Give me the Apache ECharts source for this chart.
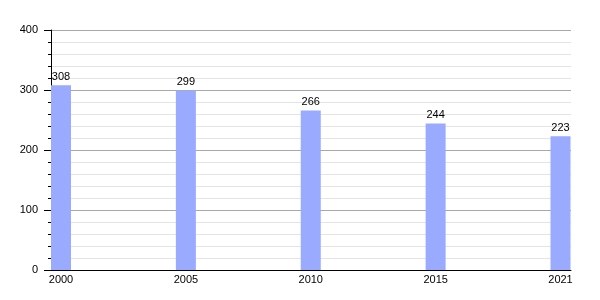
<!DOCTYPE html>
<html><head><meta charset="utf-8">
<script src="https://cdn.jsdelivr.net/npm/echarts@6/dist/echarts.min.js"></script>
<style>html,body{margin:0;padding:0;background:#fff}#c{width:600px;height:300px}</style>
</head><body><div id="c"></div>
<script>
const years = ['2000', '2005', '2010', '2015', '2021'];
const values = [308, 299, 266, 244, 223];
const yTicks = [0, 100, 200, 300, 400];

const chart = echarts.init(document.getElementById('c'), null, {renderer: 'canvas'});
const font = 'Liberation Sans';
chart.setOption({
  animation: false,
  backgroundColor: '#fff',
  grid: [
    {left: 51, right: 29, top: 30, bottom: 30},
    {left: 61, right: 39.5, top: 30, bottom: 30}
  ],
  xAxis: [
    {gridIndex: 0, type: 'value', min: 0, max: 1,
     axisLine: {show: true, lineStyle: {color: '#000', width: 1}},
     axisTick: {show: false}, axisLabel: {show: false}, splitLine: {show: false}},
    {gridIndex: 1, type: 'category', data: years, boundaryGap: false,
     axisLine: {show: false}, axisTick: {show: false}, splitLine: {show: false},
     axisLabel: {color: '#000', fontFamily: font, fontSize: 11, margin: 4}}
  ],
  yAxis: [
    {gridIndex: 0, type: 'value', min: yTicks[0], max: yTicks[yTicks.length - 1], interval: 100,
     axisLine: {show: true, lineStyle: {color: '#000', width: 1}},
     axisTick: {show: true, length: 7, lineStyle: {color: '#000'}},
     minorTick: {show: true, splitNumber: 5, length: 3, lineStyle: {color: '#000'}},
     splitLine: {show: true, lineStyle: {color: '#a8a8a8', width: 1}},
     minorSplitLine: {show: true, lineStyle: {color: '#e4e4e4', width: 1}},
     axisLabel: {color: '#000', fontFamily: font, fontSize: 11, margin: 13}},
    {gridIndex: 1, type: 'value', min: yTicks[0], max: yTicks[yTicks.length - 1],
     show: false}
  ],
  series: [{
    type: 'bar', xAxisIndex: 1, yAxisIndex: 1, data: values, barWidth: 20,
    itemStyle: {color: '#99aaff'},
    label: {show: true, position: 'top', distance: 3, color: '#000', fontFamily: font, fontSize: 11}
  }]
});
</script></body></html>
